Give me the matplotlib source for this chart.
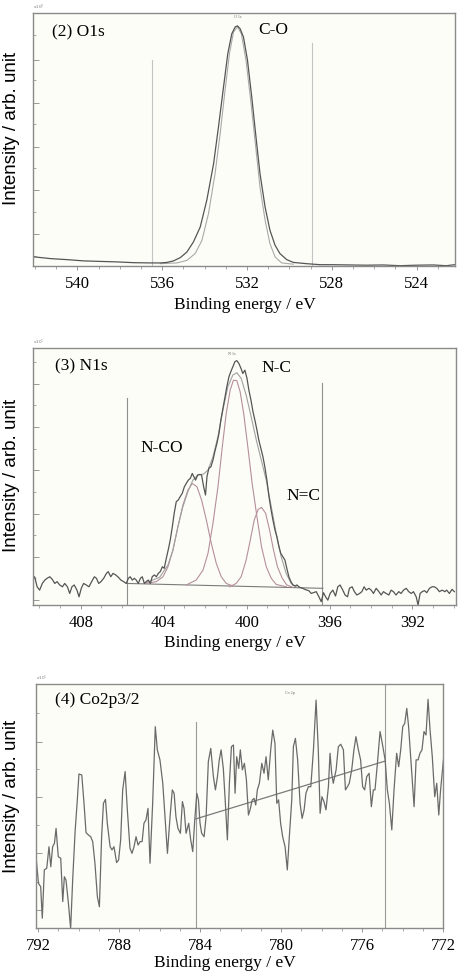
import matplotlib
matplotlib.use("Agg")
import matplotlib.pyplot as plt
from matplotlib.ticker import MultipleLocator, FixedLocator

# ---- O1s panel data (binding energy eV, intensity arb.) ----
o1s_energy = [542.05, 541.27, 540.49, 539.70, 538.92, 538.13, 537.35, 536.56, 536.09,
              535.78, 535.47, 535.15, 534.84, 534.53, 534.21, 533.90, 533.58, 533.35,
              533.11, 532.91, 532.72, 532.56, 532.45, 532.33, 532.17, 531.98, 531.78,
              531.58, 531.39, 531.15, 530.92, 530.68, 530.45, 530.13, 529.82, 529.19,
              528.56, 527.94, 527.15, 526.37, 525.58, 524.80, 524.02, 523.23, 522.60, 522.21]
o1s_raw = [3.6, 2.9, 2.5, 2.0, 1.8, 1.6, 1.3, 1.2, 1.2,
           1.4, 2.0, 3.3, 5.5, 9.5, 15.4, 26.0, 40.4, 54.9,
           70.8, 83.9, 91.8, 94.5, 94.9, 93.8, 90.5, 81.3, 66.8,
           51.0, 36.5, 23.3, 14.1, 8.2, 4.9, 2.5, 1.4, 0.9,
           0.5, 0.5, 0.4, 0.3, 0.4, 0.1, 0.3, 0.4, 0.1, 0.5]
o1s_fit_energy = [536.09, 535.31, 534.84, 534.45, 534.13, 533.82, 533.51, 533.27, 533.04,
                  532.83, 532.64, 532.45, 532.27, 532.05, 531.83, 531.61, 531.39, 531.15,
                  530.92, 530.68, 530.37, 529.82]
o1s_fit = [0.9, 1.2, 2.2, 4.9, 10.1, 20.7, 36.5, 52.3, 69.4,
           83.9, 92.5, 94.5, 91.8, 81.3, 65.5, 48.4, 31.2, 18.1,
           8.8, 3.6, 1.2, 0.7]
o1s_markers = [536.47, 528.94]
o1s_marker_tops = [81.6, 88.3]

# ---- N1s panel data ----
n1s_energy = [410.33, 410.22, 410.10, 409.98, 409.85, 409.73, 409.62, 409.49, 409.37, 409.25,
              409.14, 409.01, 408.88, 408.77, 408.64, 408.53, 408.42, 408.31, 408.18, 408.08,
              407.97, 407.86, 407.73, 407.60, 407.47, 407.34, 407.24, 407.13, 407.02, 406.89,
              406.76, 406.67, 406.55, 406.44, 406.31, 406.18, 406.06, 405.93, 405.80, 405.70,
              405.61, 405.51, 405.41, 405.32, 405.22, 405.12, 405.03, 404.93, 404.84, 404.74,
              404.64, 404.55, 404.45, 404.35, 404.26, 404.16, 404.06, 403.97, 403.87, 403.78,
              403.68, 403.58, 403.49, 403.39, 403.29, 403.20, 403.10, 403.00, 402.91, 402.81,
              402.71, 402.62, 402.54, 402.46, 402.36, 402.27, 402.17, 402.07, 401.98, 401.91,
              401.82, 401.72, 401.62, 401.53, 401.43, 401.33, 401.24, 401.14, 401.04, 400.95,
              400.85, 400.76, 400.66, 400.56, 400.47, 400.37, 400.27, 400.18, 400.08, 399.98,
              399.89, 399.79, 399.69, 399.60, 399.50, 399.41, 399.31, 399.21, 399.12, 399.02,
              398.92, 398.83, 398.73, 398.63, 398.54, 398.44, 398.35, 398.25, 398.15, 398.06,
              397.96, 397.86, 397.77, 397.67, 397.57, 397.48, 397.38, 397.29, 397.19, 397.09,
              397.00, 396.88, 396.77, 396.64, 396.51, 396.40, 396.29, 396.19, 396.08, 395.97,
              395.84, 395.71, 395.60, 395.49, 395.36, 395.25, 395.13, 395.04, 394.91, 394.80,
              394.68, 394.55, 394.44, 394.33, 394.23, 394.10, 393.99, 393.88, 393.75, 393.62,
              393.51, 393.40, 393.27, 393.14, 393.03, 392.92, 392.79, 392.66, 392.55, 392.43,
              392.30, 392.18, 392.06, 391.95, 391.82, 391.73, 391.63, 391.53, 391.42, 391.31,
              391.18, 391.05, 390.94, 390.83, 390.70, 390.57, 390.44, 390.35, 390.22, 390.09, 389.98]
n1s_raw = [10.4, 11.0, 7.1, 5.8, 8.4, 9.7, 10.4, 11.0, 10.0, 8.4,
           9.1, 7.8, 7.1, 8.4, 7.1, 4.5, 7.1, 7.8, 5.8, 3.2,
           6.5, 8.4, 7.8, 7.1, 9.1, 11.0, 10.4, 8.4, 9.1, 10.4,
           12.3, 13.0, 11.0, 12.3, 11.7, 10.8, 9.7, 9.1, 8.4, 10.4,
           11.0, 9.7, 10.4, 9.7, 8.4, 10.4, 11.0, 8.4, 9.1, 9.7,
           8.4, 11.0, 11.7, 11.0, 12.3, 13.0, 14.9, 14.3, 18.2, 21.4,
           25.3, 30.5, 35.7, 40.2, 40.9, 42.2, 43.5, 46.0, 47.3, 48.6,
           49.3, 51.2, 49.9, 48.6, 50.6, 50.8, 50.6, 46.0, 42.8, 49.9,
           53.2, 53.8, 56.4, 59.7, 62.9, 66.8, 72.0, 76.5, 81.1, 85.0,
           88.8, 90.8, 92.7, 94.7, 95.1, 94.0, 92.1, 90.1, 91.4, 88.2,
           83.7, 79.8, 75.2, 72.0, 68.1, 64.2, 61.0, 57.7, 53.8, 48.6,
           42.2, 37.6, 33.1, 29.2, 26.6, 22.7, 20.1, 18.8, 17.5, 14.3,
           11.0, 9.1, 7.8, 7.4, 7.8, 7.1, 6.7, 6.5, 6.1, 5.8,
           5.6, 4.5, 4.8, 5.2, 3.2, 1.3, 4.8, 3.2, 1.9, 4.5,
           5.8, 3.5, 7.1, 7.8, 5.8, 3.9, 3.2, 6.5, 7.1, 5.2,
           3.9, 4.5, 5.2, 7.1, 5.8, 6.5, 5.8, 4.5, 6.5, 5.2,
           3.9, 5.2, 4.5, 3.9, 5.8, 5.2, 3.9, 5.2, 4.5, 5.8,
           6.5, 5.2, 4.5, 5.2, 3.2, 0.0, 4.5, 5.2, 5.6, 4.8,
           6.5, 7.1, 7.1, 6.5, 5.2, 5.8, 5.2, 5.8, 4.5, 6.1, 5.2]
nco_energy = [404.84, 404.35, 404.03, 403.79, 403.55, 403.31, 403.07, 402.83, 402.62,
              402.39, 402.17, 401.94, 401.70, 401.46, 401.22, 400.98, 400.66]
nco_int = [8.4, 9.1, 11.0, 14.9, 21.4, 30.5, 38.9, 44.7, 47.3,
           46.0, 40.9, 33.1, 24.0, 16.2, 11.0, 8.4, 7.4]
nc_energy = [402.91, 402.43, 402.10, 401.86, 401.62, 401.38, 401.17, 400.98, 400.79, 400.63,
             400.47, 400.31, 400.14, 399.94, 399.73, 399.50, 399.28, 399.05, 398.81, 398.57, 398.09]
nc_int = [7.8, 9.7, 13.6, 20.1, 31.8, 46.0, 61.6, 74.6, 83.7, 87.5,
          87.3, 83.0, 74.6, 61.6, 47.3, 34.4, 22.7, 14.9, 10.4, 8.0, 7.1]
ndc_energy = [400.82, 400.50, 400.26, 400.02, 399.82, 399.63, 399.44, 399.28, 399.08,
              398.89, 398.70, 398.51, 398.28, 398.06, 397.77]
ndc_int = [7.1, 8.4, 11.0, 17.5, 25.3, 33.1, 37.2, 38.0, 35.7,
           29.2, 21.4, 14.9, 10.4, 7.8, 6.9]
nenv_energy = [404.84, 404.19, 403.79, 403.55, 403.31, 403.07, 402.83, 402.59, 402.35, 402.07,
               401.86, 401.62, 401.38, 401.14, 400.90, 400.66, 400.47, 400.26, 400.02, 399.78,
               399.53, 399.29, 399.05, 398.81, 398.57, 398.33, 398.09, 397.85, 397.53]
nenv_int = [8.7, 10.8, 15.6, 21.4, 30.5, 38.3, 44.1, 48.6, 50.6, 51.0,
            52.5, 57.7, 65.5, 75.9, 85.0, 89.5, 90.4, 88.2, 81.7, 73.3,
            64.2, 56.4, 48.6, 38.3, 27.9, 18.8, 12.3, 8.4, 6.7]
n1s_bg_energy = [405.80, 396.32]
n1s_bg_int = [8.4, 6.5]
n1s_markers = [405.77, 396.35]
n1s_marker_tops = [80.7, 86.3]

# ---- Co2p3/2 panel data ----
co_energy = [792.10, 791.98, 791.87, 791.79, 791.69, 791.57, 791.46, 791.37, 791.28, 791.19,
             791.11, 791.00, 790.88, 790.78, 790.70, 790.62, 790.50, 790.39, 790.29, 790.17,
             790.06, 789.98, 789.84, 789.73, 789.63, 789.51, 789.40, 789.30, 789.19, 789.07,
             788.97, 788.86, 788.77, 788.67, 788.58, 788.44, 788.35, 788.25, 788.12, 788.02,
             787.92, 787.82, 787.70, 787.59, 787.46, 787.36, 787.26, 787.16, 787.06, 786.96,
             786.86, 786.77, 786.67, 786.57, 786.47, 786.34, 786.21, 786.11, 785.98, 785.84,
             785.73, 785.61, 785.48, 785.37, 785.28, 785.19, 785.09, 784.97, 784.87, 784.79,
             784.69, 784.56, 784.46, 784.36, 784.26, 784.16, 784.08, 784.00, 783.92, 783.80,
             783.70, 783.59, 783.47, 783.34, 783.24, 783.14, 783.05, 782.96, 782.85, 782.73,
             782.65, 782.55, 782.45, 782.35, 782.27, 782.19, 782.09, 782.01, 781.91, 781.81,
             781.71, 781.61, 781.53, 781.42, 781.33, 781.25, 781.17, 781.07, 780.95, 780.84,
             780.74, 780.63, 780.51, 780.41, 780.30, 780.21, 780.12, 780.02, 779.92, 779.80,
             779.69, 779.59, 779.47, 779.39, 779.29, 779.18, 779.06, 778.96, 778.86, 778.77,
             778.65, 778.53, 778.40, 778.27, 778.16, 778.07, 777.98, 777.88, 777.78, 777.66,
             777.58, 777.50, 777.42, 777.28, 777.17, 777.05, 776.92, 776.82, 776.72, 776.63,
             776.51, 776.40, 776.30, 776.18, 776.07, 775.97, 775.87, 775.77, 775.65, 775.54,
             775.44, 775.36, 775.24, 775.11, 775.00, 774.86, 774.75, 774.65, 774.53, 774.42,
             774.29, 774.19, 774.09, 773.99, 773.89, 773.79, 773.70, 773.60, 773.43, 773.33,
             773.23, 773.14, 773.04, 772.94, 772.84, 772.74, 772.64, 772.53, 772.41, 772.31,
             772.21, 772.12, 771.98]
co_raw = [29.2, 18.3, 16.9, 4.0, 23.8, 24.5, 33.3, 25.1, 33.3, 34.7,
          40.8, 29.2, 28.6, 10.8, 21.0, 19.7, 10.1, -0.2, 19.7, 39.5,
          52.5, 63.1, 62.7, 51.1, 39.1, 38.1, 37.4, 35.4, 26.5, 12.8,
          8.7, 37.4, 51.1, 52.7, 42.9, 33.3, 32.0, 33.3, 26.8, 27.9,
          36.1, 56.6, 64.1, 48.4, 32.7, 30.6, 33.3, 37.4, 34.0, 35.4,
          35.4, 42.9, 44.3, 49.0, 26.5, 51.1, 82.5, 73.0, 68.9, 59.3,
          45.6, 30.6, 45.6, 56.6, 55.2, 45.6, 40.8, 38.8, 51.8, 49.0,
          38.8, 42.9, 36.1, 31.3, 44.3, 55.2, 52.5, 42.9, 38.8, 37.4,
          45.6, 68.2, 73.6, 62.0, 56.6, 62.0, 68.9, 73.0, 65.4, 48.4,
          36.1, 59.3, 74.3, 75.0, 55.2, 70.2, 65.4, 73.0, 64.8, 67.5,
          60.7, 46.3, 48.4, 52.5, 53.1, 50.4, 56.6, 59.3, 67.5, 63.4,
          70.2, 60.7, 73.0, 81.1, 75.7, 51.1, 52.5, 42.9, 37.4, 33.3,
          23.8, 37.4, 52.5, 74.3, 77.7, 68.9, 51.1, 44.9, 48.4, 55.2,
          57.9, 57.9, 73.0, 93.4, 73.0, 47.0, 53.8, 51.8, 48.4, 57.9,
          71.6, 63.4, 59.3, 64.8, 74.3, 75.3, 73.0, 56.6, 57.9, 59.3,
          64.8, 73.0, 78.4, 73.0, 68.9, 57.9, 56.6, 62.0, 63.4, 49.7,
          56.6, 56.6, 67.5, 80.5, 75.7, 68.9, 56.6, 51.1, 40.2, 56.6,
          71.6, 66.1, 73.0, 82.5, 83.9, 90.0, 82.5, 70.2, 49.7, 68.9,
          68.9, 71.6, 73.0, 80.5, 79.1, 93.7, 81.1, 70.2, 53.8, 59.3,
          46.3, 56.6, 68.9]
co_bg_energy = [784.21, 774.86]
co_bg_int = [44.7, 68.4]
co_markers = [784.21, 774.86]
co_marker_tops = [84.6, 100.0]

serif = "Liberation Serif"
sans = "Liberation Sans"
raw_color = "#555555"
comp_color = "#b58f9c"
face = "#fdfdf7"


def style_axes(ax, xlim, major_yticks, minor_yticks):
    ax.set_facecolor(face)
    ax.set_xlim(*xlim)
    ax.set_ylim(0, 100)
    for side in ["left", "right", "top", "bottom"]:
        ax.spines[side].set_color("#8a8a8a")
        ax.spines[side].set_linewidth(1.0)
    ax.xaxis.set_major_locator(MultipleLocator(4))
    ax.xaxis.set_minor_locator(MultipleLocator(1))
    ax.yaxis.set_major_locator(FixedLocator(major_yticks))
    ax.yaxis.set_minor_locator(FixedLocator(minor_yticks))
    ax.tick_params(axis="x", which="major", direction="out", length=3, width=0.6,
                   color="#888888", labelsize=12, pad=4)
    ax.tick_params(axis="x", which="minor", direction="out", length=2, width=0.5, color="#888888")
    ax.tick_params(axis="y", which="major", direction="in", length=4, width=0.6,
                   color="#888888", labelleft=False)
    ax.tick_params(axis="y", which="minor", direction="in", length=2.5, width=0.5, color="#888888")
    for lab in ax.get_xticklabels():
        lab.set_fontfamily(serif)


fig = plt.figure(figsize=(4.6, 9.76), dpi=100)
fig.patch.set_facecolor("white")

# ---- (2) O1s ----
ax1 = fig.add_axes([0.0717, 0.7275, 0.917, 0.2592])
style_axes(ax1, (542.1, 522.2), [12.8, 30.0, 47.2, 64.4, 81.6], [3.8, 21.3, 38.7, 56.0, 73.4, 91.2])
for e, top in zip(o1s_markers, o1s_marker_tops):
    ax1.plot([e, e], [0, top], color="#c4c4c4", lw=0.8)
ax1.plot(o1s_fit_energy, o1s_fit, color="#a9a9a9", lw=0.8)
ax1.plot(o1s_energy, o1s_raw, color=raw_color, lw=0.9)
ax1.text(541.18, 92.4, "(2) O1s", family=serif, fontsize=12.5, ha="left", va="center")
ax1.text(531.48, 93.1, "C-O", family=serif, fontsize=12.5, ha="left", va="center")
ax1.text(532.45, 98.5, "O 1s", family=serif, fontsize=3, ha="center", va="center", color="#666666")
ax1.text(0.0, 1.005, "x10$^2$", transform=ax1.transAxes, fontsize=3, color="#777777", va="bottom")

# ---- (3) N1s ----
ax2 = fig.add_axes([0.0717, 0.3801, 0.9196, 0.2633])
style_axes(ax2, (410.3, 389.9), [1.9, 18.8, 35.6, 52.5, 69.4, 86.2],
           [10.4, 27.2, 44.1, 60.9, 77.8, 94.6])
for e, top in zip(n1s_markers, n1s_marker_tops):
    ax2.plot([e, e], [0, top], color="#8f8f8f", lw=0.8)
ax2.plot(n1s_bg_energy, n1s_bg_int, color="#7a7a7a", lw=0.8)
ax2.plot(nco_energy, nco_int, color=comp_color, lw=0.8)
ax2.plot(nc_energy, nc_int, color=comp_color, lw=0.8)
ax2.plot(ndc_energy, ndc_int, color=comp_color, lw=0.8)
ax2.plot(nenv_energy, nenv_int, color="#a0a0a0", lw=0.8)
ax2.plot(n1s_energy, n1s_raw, color=raw_color, lw=0.9)
ax2.text(409.25, 92.7, "(3) N1s", family=serif, fontsize=12.5, ha="left", va="center")
ax2.text(399.29, 92.1, "N-C", family=serif, fontsize=12.5, ha="left", va="center")
ax2.text(405.12, 61.2, "N-CO", family=serif, fontsize=12.5, ha="left", va="center")
ax2.text(398.06, 42.5, "N=C", family=serif, fontsize=12.5, ha="left", va="center")
ax2.text(400.7, 97.5, "N 1s", family=serif, fontsize=3, ha="center", va="center", color="#666666")
ax2.text(0.0, 1.005, "x10$^1$", transform=ax2.transAxes, fontsize=3, color="#777777", va="bottom")

# ---- (4) Co2p3/2 ----
ax3 = fig.add_axes([0.0783, 0.0492, 0.8848, 0.25])
style_axes(ax3, (792.1, 772.0), [7.4, 30.6, 53.8, 76.4], [19.0, 42.2, 65.1, 88.0])
for e, top in zip(co_markers, co_marker_tops):
    ax3.plot([e, e], [0, top], color="#9a9a9a", lw=0.8)
ax3.plot(co_bg_energy, co_bg_int, color="#7a7a7a", lw=0.9)
ax3.plot(co_energy, co_raw, color="#6a6a6a", lw=0.9, clip_on=True)
ax3.text(791.16, 93.4, "(4) Co2p3/2", family=serif, fontsize=12.5, ha="left", va="center")
ax3.text(779.56, 96.5, "Co 2p", family=serif, fontsize=3, ha="center", va="center", color="#666666")
ax3.text(0.0, 1.005, "x10$^1$", transform=ax3.transAxes, fontsize=3, color="#777777", va="bottom")

# axis titles placed like the original figure
for yc in [128, 475, 796]:
    fig.text(12 / 460, 1 - yc / 976, "Intensity / arb. unit", family=sans, fontsize=13.5,
             rotation=90, ha="center", va="center")
for xc, yc in [(245, 305), (235, 643), (225, 963)]:
    fig.text(xc / 460, 1 - yc / 976, "Binding energy / eV", family=serif, fontsize=12.5,
             ha="center", va="center")

fig.savefig("out.png", dpi=100, facecolor="white")
